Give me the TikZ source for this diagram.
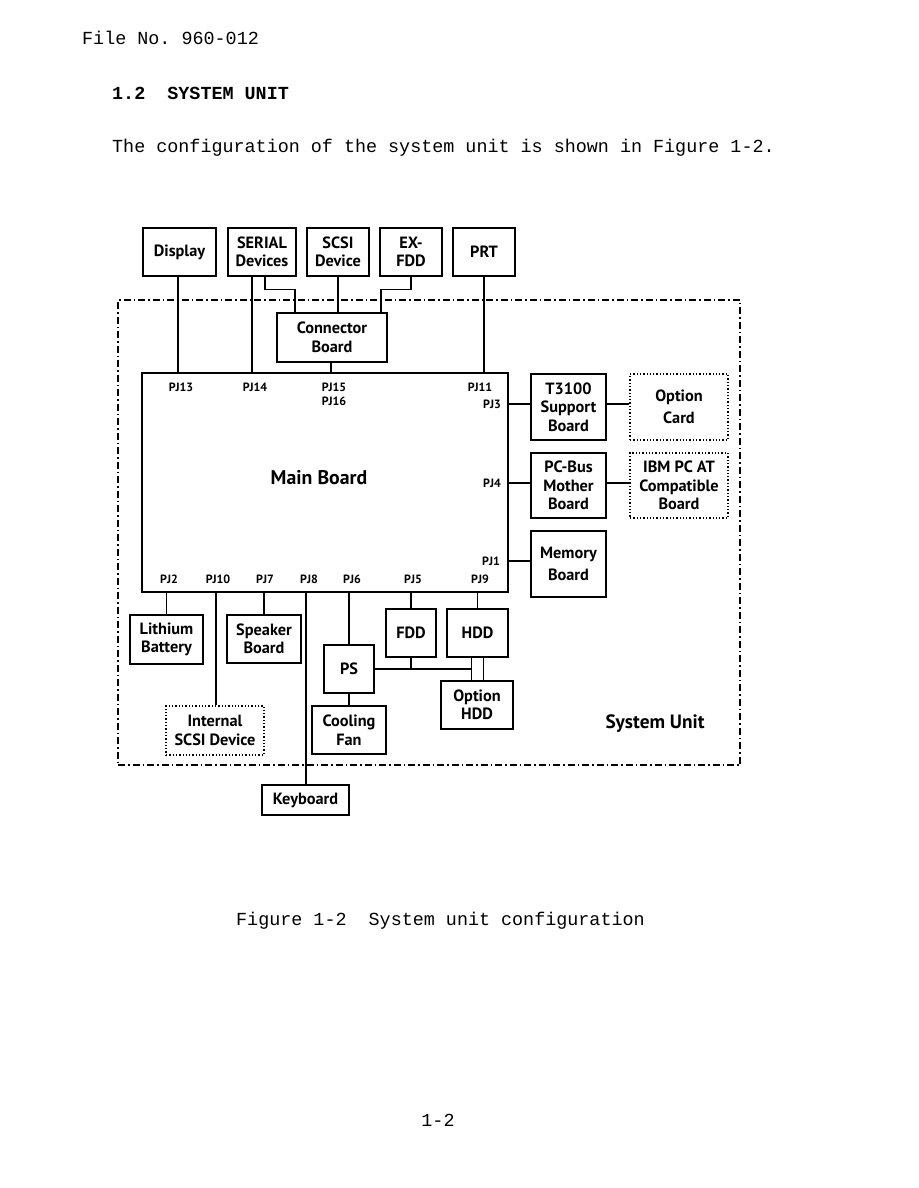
\documentclass[tikz,border=0pt]{standalone}
\usepackage{fontspec}
\setsansfont{PT Sans}
\setmonofont{Liberation Mono}
\begin{document}
\begin{tikzpicture}[x=1pt,y=-1pt,
  box/.style={draw,line width=1.3pt,rectangle,inner sep=0pt,align=center,
    font=\sffamily\bfseries\fontsize{16.3}{18.5}\selectfont},
  dotbox/.style={box,dotted,line width=1.6pt},
  conn/.style={line width=1.1pt},
  pj/.style={inner sep=0pt,font=\sffamily\bfseries\fontsize{12}{13}\selectfont},
  mono/.style={inner sep=0pt,anchor=west,font=\ttfamily\fontsize{18.4}{20}\selectfont},
  dashdot/.style={line width=1.1pt,dash pattern=on 7pt off 3pt on 1.5pt off 3pt}]
\useasboundingbox (0,0) rectangle (918,1188);
\fill[white] (0,0) rectangle (918,1188);

% header text
\node[mono] (file) at (82,38) {File No. 960-012};
\node[mono,font=\ttfamily\bfseries\fontsize{18.4}{20}\selectfont] (sec) at (112,93) {1.2\ \ SYSTEM UNIT};
\node[mono] (intro) at (112,148) {The configuration of the system unit is shown in Figure 1-2.};
\node[mono] (cap) at (236,921) {Figure 1-2\ \ System unit configuration};
\node[mono,anchor=center] (page) at (438,1120) {1-2};

% system unit boundary
\node[draw,dashdot,minimum width=622,minimum height=465,inner sep=0pt] (SU) at (429,532.5) {};
\node[inner sep=0pt,font=\sffamily\bfseries\fontsize{19.3}{22}\selectfont] (sulab) at (655,724) {System Unit};

% top devices
\node[box,minimum width=73,minimum height=48] (Display) at (179.5,252) {Display};
\node[box,minimum width=68,minimum height=48] (Serial) at (262,252) {SERIAL\\Devices};
\node[box,minimum width=62,minimum height=48] (SCSI) at (338,252) {SCSI\\Device};
\node[box,minimum width=62,minimum height=48] (EXFDD) at (411,252) {EX-\\FDD};
\node[box,minimum width=62,minimum height=48] (PRT) at (484,252) {PRT};
\node[box,minimum width=110,minimum height=49] (Conn) at (332,337.5) {Connector\\Board};

% main board
\node[box,minimum width=366,minimum height=219] (Main) at (325,482.5) {};
\node[inner sep=0pt,font=\sffamily\bfseries\fontsize{19.8}{22}\selectfont] (mainlab) at (319,478) {Main Board};

% right side
\node[box,minimum width=75,minimum height=66] (T3100) at (568.5,407) {T3100\\Support\\Board};
\node[dotbox,minimum width=98,minimum height=66] (OptCard) at (679,407) {Option\\[3pt]Card};
\node[box,minimum width=75,minimum height=65] (PCBus) at (568.5,485.5) {PC-Bus\\Mother\\Board};
\node[dotbox,minimum width=98,minimum height=65] (IBM) at (679,485.5) {IBM PC AT\\Compatible\\Board};
\node[box,minimum width=75,minimum height=66] (Memory) at (568.5,564) {Memory\\[4pt]Board};

% bottom
\node[box,minimum width=73,minimum height=49] (Lithium) at (166.5,639.5) {Lithium\\Battery};
\node[box,minimum width=74,minimum height=48] (Speaker) at (264,639) {Speaker\\Board};
\node[dotbox,minimum width=98,minimum height=49] (ISCSI) at (215,730.5) {Internal\\SCSI Device};
\node[box,minimum width=50,minimum height=48] (PS) at (349,669) {PS};
\node[box,minimum width=74,minimum height=48] (Fan) at (349,730) {Cooling\\Fan};
\node[box,minimum width=50,minimum height=48] (FDD) at (411,633) {FDD};
\node[box,minimum width=61,minimum height=48] (HDD) at (477.5,633) {HDD};
\node[box,minimum width=72,minimum height=48] (OptHDD) at (477,705) {Option\\HDD};
\node[box,minimum width=87,minimum height=30] (Kbd) at (305.5,800) {Keyboard};

% PJ labels
\node[pj] (pj13) at (181,387) {PJ13};
\node[pj] (pj14) at (255,387) {PJ14};
\node[pj] (pj15) at (334,387) {PJ15};
\node[pj] (pj16) at (334,401) {PJ16};
\node[pj] (pj11) at (480,387) {PJ11};
\node[pj] (pj3) at (492,404) {PJ3};
\node[pj] (pj4) at (492,483) {PJ4};
\node[pj] (pj1) at (491,561) {PJ1};
\node[pj] (pj2) at (169,579) {PJ2};
\node[pj] (pj10) at (218,579) {PJ10};
\node[pj] (pj7) at (265,579) {PJ7};
\node[pj] (pj8) at (309,579) {PJ8};
\node[pj] (pj6) at (352,579) {PJ6};
\node[pj] (pj5) at (413,579) {PJ5};
\node[pj] (pj9) at (480,579) {PJ9};

% top connectors
\draw[conn] ([xshift=-1.5pt]Display.south) -- ([xshift=-1.5pt]Display.south |- Main.north);
\draw[conn] ([xshift=-10pt]Serial.south) -- ([xshift=-10pt]Serial.south |- Main.north);
\draw[conn] ([xshift=3pt]Serial.south) -- ++(0,13) -| ([xshift=-37pt]Conn.north);
\draw[conn] (SCSI.south) -- (SCSI.south |- Conn.north);
\draw[conn] (EXFDD.south) -- ++(0,13) -| ([xshift=49pt]Conn.north);
\draw[conn] (PRT.south) -- (PRT.south |- Main.north);
\draw[conn] ([xshift=-1pt]Conn.south) -- ([xshift=-1pt]Conn.south |- Main.north);

% right connectors
\draw[conn] ([yshift=3pt]T3100.west) -- ([yshift=3pt]T3100.west -| Main.east);
\draw[conn] ([yshift=3pt]T3100.east) -- ([yshift=3pt]T3100.east -| OptCard.west);
\draw[conn] ([yshift=2.5pt]PCBus.west) -- ([yshift=2.5pt]PCBus.west -| Main.east);
\draw[conn] ([yshift=2.5pt]PCBus.east) -- ([yshift=2.5pt]PCBus.east -| IBM.west);
\draw[conn] ([yshift=3pt]Memory.west) -- ([yshift=3pt]Memory.west -| Main.east);

% bottom connectors
\draw[conn] (Lithium.north) -- (Lithium.north |- Main.south);
\draw[conn] ([xshift=1pt]ISCSI.north) -- ([xshift=1pt]ISCSI.north |- Main.south);
\draw[conn] (Speaker.north) -- (Speaker.north |- Main.south);
\draw[conn] ([xshift=0.5pt]Kbd.north) -- ([xshift=0.5pt]Kbd.north |- Main.south);
\draw[conn] (PS.north) -- (PS.north |- Main.south);
\draw[conn] (PS.south) -- (Fan.north);
\draw[conn] (FDD.north) -- (FDD.north |- Main.south);
\draw[conn] (HDD.north) -- (HDD.north |- Main.south);
\coordinate (hl) at ([xshift=-6pt]HDD.south);
\coordinate (hr) at ([xshift=6pt]HDD.south);
\draw[conn] (hl) -- (hl |- OptHDD.north);
\draw[conn] (hr) -- (hr |- OptHDD.north);
\draw[conn] (PS.east) -- (PS.east -| hl);
\draw[conn] (FDD.south) -- (FDD.south |- PS.east);
\end{tikzpicture}
\end{document}
